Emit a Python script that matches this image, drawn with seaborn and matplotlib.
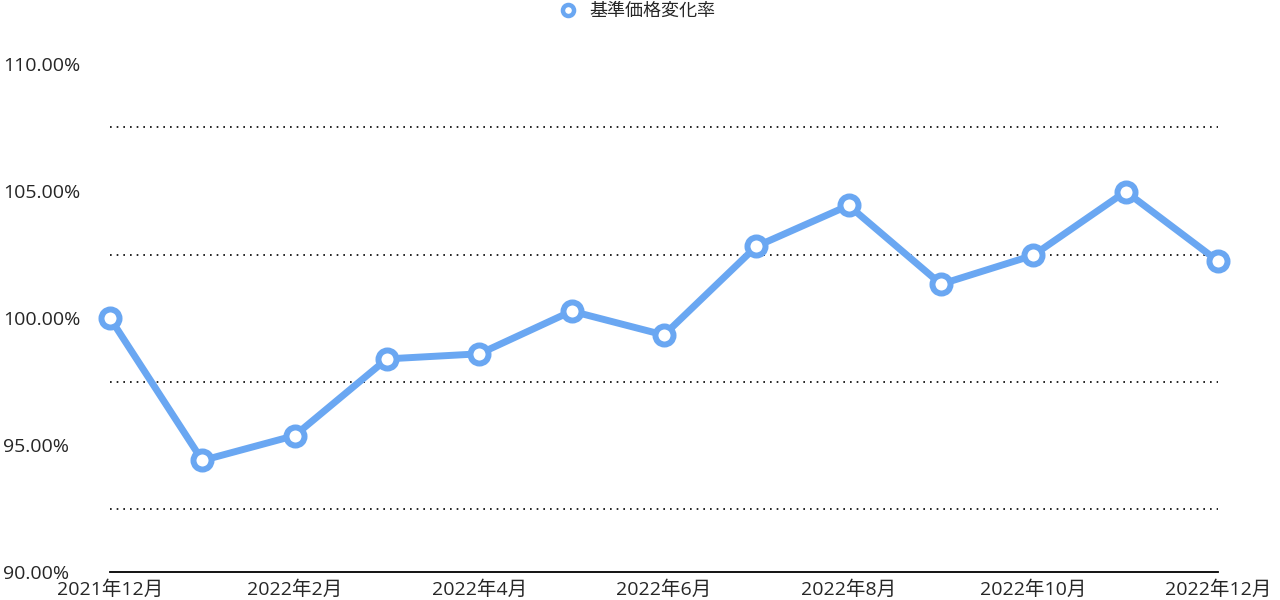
import matplotlib
matplotlib.use("Agg")
import matplotlib.pyplot as plt
from matplotlib.ticker import FixedLocator, FuncFormatter
import seaborn as sns
import pandas as pd

months = ["2021年12月", "2022年1月", "2022年2月", "2022年3月", "2022年4月", "2022年5月",
          "2022年6月", "2022年7月", "2022年8月", "2022年9月", "2022年10月", "2022年11月",
          "2022年12月"]
rate = [100.00, 94.39, 95.37, 98.39, 98.59, 100.27, 99.33, 102.82, 104.43, 101.33,
        102.47, 104.98, 102.24]
series_name = "基準価格変化率"

df = pd.DataFrame({"month": range(len(months)), "rate": rate})

sns.set_style("white")
plt.rcParams['font.family'] = ['Open Sans', 'Noto Sans CJK JP', 'DejaVu Sans']

blue = "#6aa7f2"
fig = plt.figure(figsize=(12.8, 6), dpi=100)
ax = fig.add_axes([110 / 1280, 28 / 600, 1108 / 1280, 508 / 600])

sns.lineplot(data=df, x="month", y="rate", ax=ax, color=blue, linewidth=5,
             marker="o", markersize=13, markerfacecolor="white",
             markeredgecolor=blue, markeredgewidth=4.3, label=series_name,
             clip_on=False, zorder=3, legend=False)

ax.set_xlim(0, len(months) - 1)
ax.set_ylim(90, 110)
ax.set_xticks(range(0, len(months), 2))
ax.set_xticklabels(months[::2], fontsize=14)
ax.yaxis.set_major_locator(FixedLocator([90, 95, 100, 105, 110]))
ax.yaxis.set_major_formatter(FuncFormatter(lambda v, p: f"{v:.2f}%"))
ax.yaxis.set_minor_locator(FixedLocator([92.5, 97.5, 102.5, 107.5]))
ax.grid(which="minor", axis="y", linestyle=(0, (1, 3)), color="black", linewidth=1.2)
ax.grid(which="major", visible=False)
ax.tick_params(axis="y", which="both", length=0, pad=77, labelsize=14)
ax.tick_params(axis="x", length=0, pad=6)
for lbl in ax.get_yticklabels():
    lbl.set_horizontalalignment("left")
ax.set_xlabel("")
ax.set_ylabel("")
for s in ["top", "right", "left"]:
    ax.spines[s].set_visible(False)
ax.spines["bottom"].set_color("black")
ax.spines["bottom"].set_linewidth(1.3)

handles, labels = ax.get_legend_handles_labels()
leg = fig.legend(handles, labels, loc="upper center", bbox_to_anchor=(0.498, 1.024),
                 frameon=False, fontsize=13, handlelength=1.0, handletextpad=0.7)
for h in leg.get_lines():
    h.set_linewidth(0)
    h.set_markersize(8)
    h.set_markeredgewidth(3.2)

fig.savefig("out.png", dpi=100)
